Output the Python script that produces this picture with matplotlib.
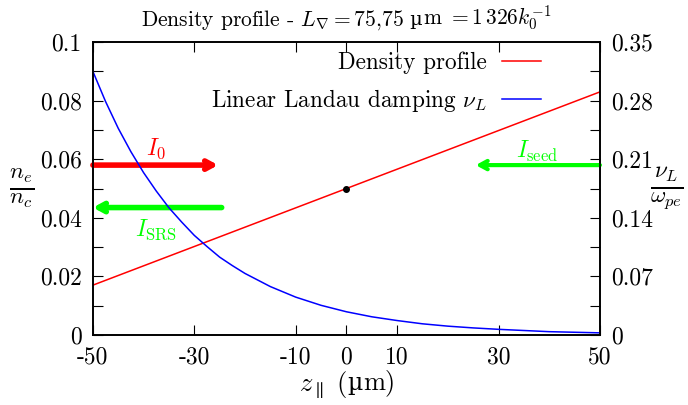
import matplotlib
matplotlib.use("Agg")
import matplotlib.pyplot as plt
from matplotlib.offsetbox import TextArea, HPacker, AnchoredOffsetbox

# Computer Modern look; cmr10 has no upright mu, so that one comes from DejaVu Serif
plt.rcParams['font.family'] = ['cmr10']
plt.rcParams['mathtext.fontset'] = 'cm'
plt.rcParams['axes.unicode_minus'] = False

# Density profile (left axis), straight line
z_density = [-50, 50]
n_density = [0.0170, 0.0830]

# Linear Landau damping nu_L / omega_pe (right axis)
z_landau = [-50, -47.5, -45, -42.5, -40, -37.5, -35, -32.5, -30, -27.5,
            -25, -22.5, -20, -15, -10, -5, 0,
            5, 10, 15, 20, 25, 30, 35, 40, 45, 50]
nu_landau = [0.315, 0.279, 0.247, 0.219, 0.194, 0.172, 0.152, 0.135,
             0.119, 0.1057, 0.093, 0.0829, 0.0735, 0.0578,
             0.0452, 0.0354, 0.0277, 0.0217, 0.0172, 0.0133, 0.0105,
             0.0084, 0.0067, 0.0053, 0.0039, 0.0032, 0.0025]

# Marked point on the density profile
dot_z, dot_n = 0, 0.05

# Beam arrows: (start z, end z, level on left axis)
arrow_i0 = (-50, -25.3, 0.058)
arrow_srs = (-24.6, -50, 0.0435)
arrow_seed = (50, 25.5, 0.058)

x_ticks = [-50, -30, -10, 0, 10, 30, 50]
x_labels = ["-50", "-30", "-10", "0", "10", "30", "50"]
left_ticks = [0, 0.01, 0.02, 0.03, 0.04, 0.05, 0.06, 0.07, 0.08, 0.09, 0.1]
left_labels = ["0", "", "0.02", "", "0.04", "", "0.06", "", "0.08", "", "0.1"]
right_ticks = [0, 0.035, 0.07, 0.105, 0.14, 0.175, 0.21, 0.245, 0.28, 0.315, 0.35]
right_labels = ["0", "", "0.07", "", "0.14", "", "0.21", "", "0.28", "", "0.35"]

RED = '#ff0000'
BLUE = '#0000ff'
GREEN = '#00ff00'
MU = '\u00b5'

fig = plt.figure(figsize=(6.88, 4.05), dpi=100)
ax = fig.add_axes([0.135, 0.173, 0.737, 0.723])
ax2 = ax.twinx()

l1, = ax.plot(z_density, n_density, color=RED, lw=1.1, label='Density profile')
l2, = ax2.plot(z_landau, nu_landau, color=BLUE, lw=1.1,
               label=r'Linear Landau damping $\nu_L$')
ax.plot([dot_z], [dot_n], 'o', color='black', ms=4, zorder=5)

ax.set_xlim(-50, 50)
ax.set_ylim(0, 0.1)
ax2.set_ylim(0, 0.35)

ax.set_xticks(x_ticks)
ax.set_xticklabels(x_labels)
ax.set_yticks(left_ticks)
ax.set_yticklabels(left_labels)
ax2.set_yticks(right_ticks)
ax2.set_yticklabels(right_labels)

ax.tick_params(axis='x', direction='in', length=7, width=0.8, top=True,
               labelsize=17, pad=8)
ax.tick_params(axis='y', direction='in', length=7, width=0.8,
               labelsize=17, pad=8)
ax2.tick_params(axis='y', direction='in', length=7, width=0.8,
                labelsize=17, pad=8)
for a in (ax, ax2):
    for s in a.spines.values():
        s.set_linewidth(1.2)

def draw_arrow(spec, color, lw=4):
    z0, z1, y = spec
    ax.annotate('', xy=(z1, y), xytext=(z0, y),
                arrowprops=dict(arrowstyle='->,head_length=0.55,head_width=0.3',
                                color=color, lw=lw, shrinkA=0, shrinkB=0))

draw_arrow(arrow_i0, RED)
draw_arrow(arrow_srs, GREEN)
draw_arrow(arrow_seed, GREEN, lw=3)

ax.text(-37.6, 0.0635, r'$I_0$', color=RED, fontsize=17, ha='center', va='center')
ax.text(-37.6, 0.036, r'$I_{\mathrm{SRS}}$', color=GREEN, fontsize=17,
        ha='center', va='center')
ax.text(37.6, 0.0625, r'$I_{\mathrm{seed}}$', color=GREEN, fontsize=17,
        ha='center', va='center')

ax.legend(handles=[l1, l2], loc='upper right', bbox_to_anchor=(0.903, 1.0),
          frameon=False, markerfirst=False, fontsize=16.7, handlelength=1.7,
          handletextpad=0.65, labelspacing=0.55, borderaxespad=0)


def mixed_text(parts, size, loc, anchor):
    # text made of pieces in different fonts, laid on one baseline
    boxes = []
    for txt, fam, scale in parts:
        boxes.append(TextArea(txt, textprops=dict(fontsize=size * scale, family=fam)))
    pack = HPacker(children=boxes, align='baseline', pad=0, sep=0)
    box = AnchoredOffsetbox(loc=loc, child=pack, frameon=False, pad=0, borderpad=0,
                            bbox_to_anchor=anchor, bbox_transform=ax.transAxes)
    ax.add_artist(box)


mixed_text([(r'Density profile - $L_\nabla = 75{,}75$', 'cmr10', 1.0),
            (' ' + MU, 'DejaVu Serif', 0.9),
            (r'm$\ = 1\,326k_0^{-1}$', 'cmr10', 1.0)],
           15.5, 'lower center', (0.5, 1.03))
mixed_text([(r'$z_\parallel\ ($', 'cmr10', 1.0),
            (MU, 'DejaVu Serif', 0.9),
            (r'm$)$', 'cmr10', 1.0)],
           19, 'upper center', (0.5, -0.115))

fig.text(0.032, 0.535, r'$\frac{n_e}{n_c}$', fontsize=24, ha='center', va='center')
fig.text(0.97, 0.535, r'$\frac{\nu_L}{\omega_{pe}}$', fontsize=24,
         ha='center', va='center')

fig.savefig('out.png', dpi=100)
